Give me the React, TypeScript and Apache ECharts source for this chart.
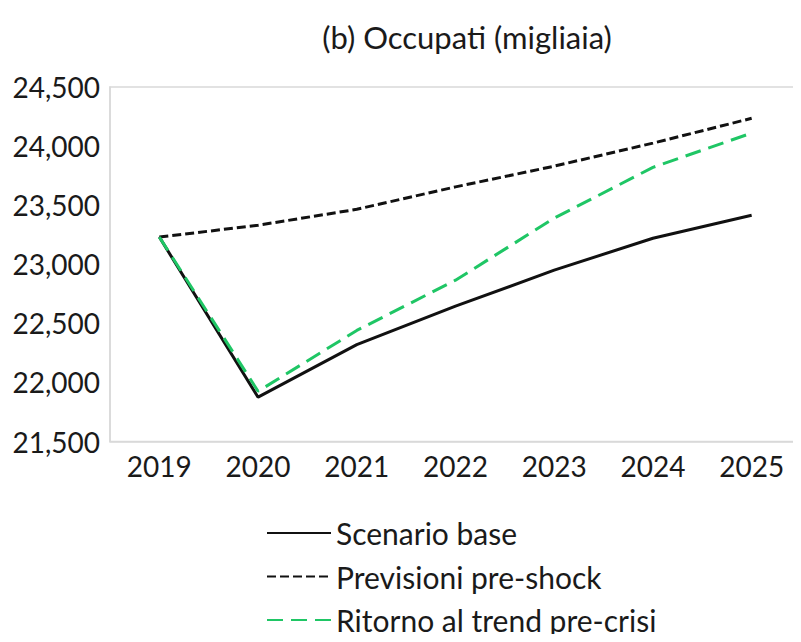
import React, { useEffect, useRef } from "react";
import * as echarts from "echarts";

const years = ["2019", "2020", "2021", "2022", "2023", "2024", "2025"];
const scenarioBase = [23230, 21875, 22320, 22645, 22950, 23220, 23415];
const previsioniPreShock = [23230, 23330, 23465, 23655, 23830, 24025, 24235];
const ritornoTrend = [23230, 21925, 22440, 22865, 23390, 23820, 24110];

const FONT = "Lato";

export default function App() {
  const ref = useRef<HTMLDivElement>(null);
  useEffect(() => {
    if (!ref.current) return;
    const chart = echarts.init(ref.current, undefined, { renderer: "svg" });
    chart.setOption({
      animation: false,
      backgroundColor: "#ffffff",
      title: {
        text: "(b) Occupati (migliaia)",
        left: 462,
        top: 16,
        textAlign: "center",
        textStyle: { fontFamily: FONT, fontSize: 31, lineHeight: 32, fontWeight: "normal", color: "#1a1a1a" },
      },
      grid: {
        left: 110,
        right: -11,
        top: 87,
        bottom: 200.5,
        containLabel: false,
        show: true,
        borderColor: "#d9d9d9",
        borderWidth: 1.5,
        backgroundColor: "transparent",
      },
      xAxis: {
        type: "category",
        data: years,
        boundaryGap: true,
        axisLine: { show: true, lineStyle: { color: "#d9d9d9", width: 1.5 } },
        axisTick: { show: false },
        axisLabel: { fontFamily: FONT, fontSize: 28, color: "#1a1a1a", margin: 10 },
        splitLine: { show: false },
      },
      yAxis: {
        type: "value",
        min: 21500,
        max: 24500,
        interval: 500,
        axisLine: { show: true, lineStyle: { color: "#d9d9d9", width: 1.5 } },
        axisTick: { show: false },
        splitLine: { show: false },
        axisLabel: {
          fontFamily: FONT,
          fontSize: 28,
          color: "#1a1a1a",
          margin: 10,
          formatter: (v: number) => v.toLocaleString("en-US"),
        },
      },
      legend: {
        orient: "vertical",
        left: 261,
        top: 513,
        itemWidth: 64,
        itemHeight: 14,
        itemGap: 13.5,
        itemStyle: { opacity: 0 },
        textStyle: { fontFamily: FONT, fontSize: 30, lineHeight: 30, color: "#1a1a1a" },
        data: ["Scenario base", "Previsioni pre-shock", "Ritorno al trend pre-crisi"],
      },
      series: [
        {
          name: "Scenario base",
          type: "line",
          data: scenarioBase,
          symbol: "none",
          lineStyle: { color: "#111111", width: 3 },
          itemStyle: { color: "#111111" },
          z: 2,
        },
        {
          name: "Previsioni pre-shock",
          type: "line",
          data: previsioniPreShock,
          symbol: "none",
          lineStyle: { color: "#111111", width: 3, type: [9, 4] },
          itemStyle: { color: "#111111" },
          z: 3,
        },
        {
          name: "Ritorno al trend pre-crisi",
          type: "line",
          data: ritornoTrend,
          symbol: "none",
          lineStyle: { color: "#1fc665", width: 3, type: [16, 8] },
          itemStyle: { color: "#1fc665" },
          z: 4,
        },
      ],
    });
    return () => chart.dispose();
  }, []);
  return <div ref={ref} style={{ width: 801, height: 642, margin: -8 }} />;
}
